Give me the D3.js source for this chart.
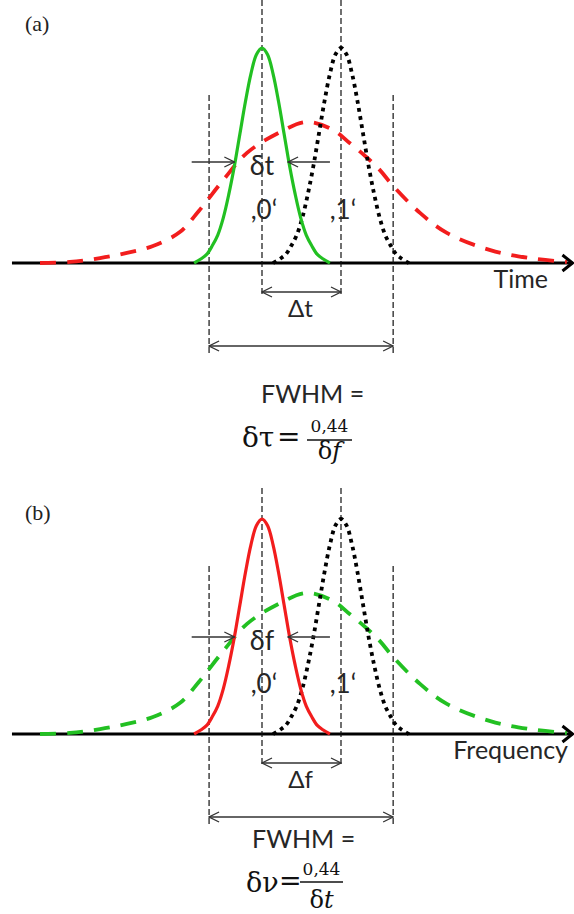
<!DOCTYPE html>
<html><head><meta charset="utf-8">
<script src="https://cdn.jsdelivr.net/npm/d3@7"></script>
<style>body{margin:0;background:#fff}svg{display:block}</style>
</head><body><script>
// ---- data (x in units of bit spacing, amplitude relative to pulse peak) ----
const bitCenters = [0, 1];
const bitLabels = [",0‘", ",1‘"];
const pulseOffsets = [-0.86,-0.77,-0.70,-0.63,-0.56,-0.49,-0.42,-0.35,-0.28,-0.21,-0.14,-0.07,0,0.07,0.14,0.21,0.28,0.35,0.42,0.49,0.56,0.63,0.70,0.77,0.86];
const pulseAmps = [0,0.02,0.04,0.08,0.13,0.21,0.32,0.45,0.60,0.75,0.88,0.97,1,0.97,0.88,0.75,0.60,0.45,0.32,0.21,0.13,0.08,0.04,0.02,0];
const envelopeX = [-2.81,-2.43,-2.05,-1.71,-1.38,-1.04,-0.80,-0.49,-0.19,0.23,0.57,0.90,1.11,1.32,1.49,1.66,2.00,2.34,2.89,3.39,3.86];
const envelopeY = [0,0.005,0.023,0.047,0.079,0.144,0.242,0.386,0.512,0.609,0.656,0.619,0.558,0.493,0.433,0.358,0.233,0.140,0.060,0.023,0.005];
const fwhmBounds = [-0.67, 1.66];
const axisRange = [-3.165, 3.93];
const widthArrowOuter = [-0.89, 0.86];
const widthArrowInner = [-0.35, 0.33];
const panelLetters = ["(a)", "(b)"];
const axisTitles = ["Time", "Frequency"];
const pulseWidthLabels = ["δt", "δf"];
const spacingLabels = ["Δt", "Δf"];
const formulaLeft = ["δτ", "δν"];
const formulaNumerator = ["0,44", "0,44"];
const formulaDenomVar = ["f", "t"];

const W = 574, H = 914;
const GREEN = "#22c022", RED = "#f21d1d", INK = "#262626";
const SANS = "Lato, 'Open Sans', sans-serif";
const SERIF = "'Liberation Serif', 'Times New Roman', serif";
const MATH = "'DejaVu Serif', serif";

const svg = d3.select("body").append("svg").attr("width", W).attr("height", H);
const defs = svg.append("defs");
defs.append("marker").attr("id", "arr")
  .attr("viewBox", "-1 -6 12 12").attr("refX", 10).attr("refY", 0)
  .attr("markerWidth", 12).attr("markerHeight", 12)
  .attr("markerUnits", "userSpaceOnUse").attr("orient", "auto-start-reverse")
  .append("path").attr("d", "M0,-5L10,0L0,5")
  .attr("fill", "none").attr("stroke", "#333").attr("stroke-width", 1.3);

const x = d3.scaleLinear().domain([0, 1]).range([262, 341]);

const layouts = [
  { axis: 263, innerTop: 0, pulseColor: GREEN, envColor: RED, dArrow: -101, bitBase: -44, titleX: 548,
    fwhm: 403, fwhmX: 261, lhsX: 242, lhsBase: 447, lhsSize: 28, eqX: 277, eqBase: 446, barX: [307, 352], barY: 440, numBase: 432, denBase: 459, letterY: 31 },
  { axis: 734, innerTop: 488, pulseColor: RED, envColor: GREEN, dArrow: -97, bitBase: -41, titleX: 568,
    fwhm: 848, fwhmX: 252, lhsX: 246, lhsBase: 892, lhsSize: 27, eqX: 279, eqBase: 890, barX: [300, 343], barY: 882, numBase: 875, denBase: 908, letterY: 520 }
];

layouts.forEach((L, i) => {
  const g = svg.append("g");
  const y = d3.scaleLinear().domain([0, 1]).range([L.axis, L.axis - 215]);
  const y0 = y(0);

  // panel letter
  g.append("text").attr("x", 25).attr("y", L.letterY).text(panelLetters[i])
    .attr("font-family", SERIF).attr("font-size", 22).attr("fill", "#222");

  // axis
  const xe = x(axisRange[1]);
  g.append("line").attr("x1", x(axisRange[0])).attr("x2", xe).attr("y1", y0).attr("y2", y0)
    .attr("stroke", "#000").attr("stroke-width", 3.2);

  // vertical dashed guides
  bitCenters.forEach(c => {
    g.append("line").attr("x1", x(c)).attr("x2", x(c)).attr("y1", L.innerTop).attr("y2", y0 + 32)
      .attr("stroke", "#111").attr("stroke-width", 1.2).attr("stroke-dasharray", "6,3");
  });
  fwhmBounds.forEach(b => {
    g.append("line").attr("x1", x(b)).attr("x2", x(b)).attr("y1", y0 - 168).attr("y2", y0 + 90)
      .attr("stroke", "#111").attr("stroke-width", 1.2).attr("stroke-dasharray", "6,3");
  });

  // envelope
  const envData = envelopeX.map((v, k) => [v, envelopeY[k]]);
  g.append("path").datum(envData)
    .attr("d", d3.line().x(d => x(d[0])).y(d => y(d[1])).curve(d3.curveCatmullRom.alpha(0.5)))
    .attr("fill", "none").attr("stroke", L.envColor).attr("stroke-width", 3.8)
    .attr("stroke-dasharray", "16,11");

  // pulses
  const pulseLine = c => d3.line().x(d => x(c + d[0])).y(d => y(d[1])).curve(d3.curveCatmullRom.alpha(0.5));
  const pData = pulseOffsets.map((o, k) => [o, pulseAmps[k]]);
  g.append("path").datum(pData).attr("d", pulseLine(bitCenters[1]))
    .attr("fill", "none").attr("stroke", "#000").attr("stroke-width", 3.8)
    .attr("stroke-dasharray", "3.8,4.4");
  g.append("path").datum(pData).attr("d", pulseLine(bitCenters[0]))
    .attr("fill", "none").attr("stroke", L.pulseColor).attr("stroke-width", 3.2);

  // axis arrowhead
  g.append("path").attr("d", `M${xe - 10},${y0 - 8}L${xe},${y0}L${xe - 10},${y0 + 8}`)
    .attr("fill", "none").attr("stroke", "#000").attr("stroke-width", 3).attr("stroke-linejoin", "miter");

  // width arrows (pointing inward)
  const ay = y0 + L.dArrow;
  g.append("line").attr("x1", x(widthArrowOuter[0])).attr("x2", x(widthArrowInner[0])).attr("y1", ay).attr("y2", ay)
    .attr("stroke", "#333").attr("stroke-width", 1.3).attr("marker-end", "url(#arr)");
  g.append("line").attr("x1", x(widthArrowOuter[1])).attr("x2", x(widthArrowInner[1])).attr("y1", ay).attr("y2", ay)
    .attr("stroke", "#333").attr("stroke-width", 1.3).attr("marker-end", "url(#arr)");
  g.append("text").attr("x", x(0)).attr("y", ay + 13).attr("text-anchor", "middle")
    .attr("font-family", SANS).attr("font-size", 27).attr("fill", INK).text(pulseWidthLabels[i]);

  // bit labels
  bitCenters.forEach((c, k) => {
    g.append("text").attr("x", x(c) + 2).attr("y", y0 + L.bitBase).attr("text-anchor", "middle")
      .attr("font-family", SANS).attr("font-size", 26).attr("fill", INK).text(bitLabels[k]);
  });

  // spacing arrow
  g.append("line").attr("x1", x(bitCenters[0])).attr("x2", x(bitCenters[1])).attr("y1", y0 + 29).attr("y2", y0 + 29)
    .attr("stroke", "#333").attr("stroke-width", 1.3)
    .attr("marker-start", "url(#arr)").attr("marker-end", "url(#arr)");
  g.append("text").attr("x", x((bitCenters[0] + bitCenters[1]) / 2) - 1).attr("y", y0 + 54).attr("text-anchor", "middle")
    .attr("font-family", SANS).attr("font-size", 24).attr("fill", INK).text(spacingLabels[i]);

  // FWHM arrow
  g.append("line").attr("x1", x(fwhmBounds[0])).attr("x2", x(fwhmBounds[1])).attr("y1", y0 + 83).attr("y2", y0 + 83)
    .attr("stroke", "#333").attr("stroke-width", 1.3)
    .attr("marker-start", "url(#arr)").attr("marker-end", "url(#arr)");

  // axis title
  g.append("text").attr("x", L.titleX).attr("y", y0 + 25).attr("text-anchor", "end")
    .attr("font-family", SANS).attr("font-size", 25).attr("fill", INK).text(axisTitles[i]);

  // formula
  g.append("text").attr("x", L.fwhmX).attr("y", L.fwhm)
    .attr("font-family", SANS).attr("font-size", 25).attr("fill", INK).text("FWHM =");
  g.append("text").attr("x", L.lhsX).attr("y", L.lhsBase)
    .attr("font-family", MATH).attr("font-size", L.lhsSize).attr("fill", "#111").text(formulaLeft[i]);
  g.append("text").attr("x", L.eqX).attr("y", L.eqBase)
    .attr("font-family", MATH).attr("font-size", L.lhsSize).attr("fill", "#111").text("=");
  g.append("line").attr("x1", L.barX[0]).attr("x2", L.barX[1]).attr("y1", L.barY).attr("y2", L.barY)
    .attr("stroke", "#111").attr("stroke-width", 1.4);
  const cx = (L.barX[0] + L.barX[1]) / 2;
  g.append("text").attr("x", cx).attr("y", L.numBase).attr("text-anchor", "middle")
    .attr("font-family", MATH).attr("font-size", 17).attr("fill", "#111").text(formulaNumerator[i]);
  const den = g.append("text").attr("x", cx).attr("y", L.denBase).attr("text-anchor", "middle")
    .attr("font-family", MATH).attr("font-size", 24).attr("fill", "#111");
  den.append("tspan").text("δ");
  den.append("tspan").attr("font-style", "italic").text(formulaDenomVar[i]);
});
</script></body></html>
